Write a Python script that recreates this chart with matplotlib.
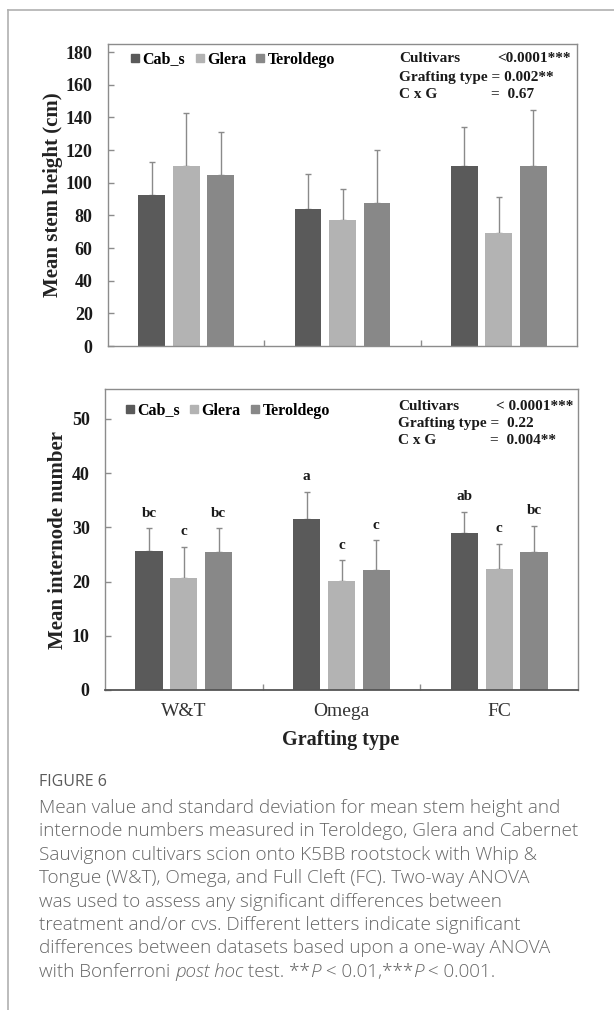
import matplotlib
matplotlib.use('Agg')
import matplotlib.pyplot as plt
from matplotlib.lines import Line2D
from matplotlib.font_manager import FontProperties
import numpy as np

categories = ['W&T', 'Omega', 'FC']
cultivars = ['Cab_s', 'Glera', 'Teroldego']
colors = ['#5a5a5a', '#b3b3b3', '#888888']

# mean stem height (cm) and SD
height_cab = [92.3, 83.9, 110.5]
height_glera = [110.5, 77.1, 69.2]
height_ter = [104.5, 87.4, 110.5]
height_sd_cab = [20.7, 21.5, 23.5]
height_sd_glera = [32.1, 19.3, 22.0]
height_sd_ter = [26.8, 32.9, 34.3]

# mean internode number and SD
int_cab = [25.6, 31.6, 28.9]
int_glera = [20.6, 20.1, 22.3]
int_ter = [25.5, 22.2, 25.5]
int_sd_cab = [4.2, 5.0, 3.9]
int_sd_glera = [5.8, 3.8, 4.7]
int_sd_ter = [4.3, 5.4, 4.8]
letters_cab = ['bc', 'a', 'ab']
letters_glera = ['c', 'c', 'c']
letters_ter = ['bc', 'c', 'bc']

stats_top = [('Cultivars', '<0.0001***'), ('Grafting type = 0.002**', ''), ('C x G', '=  0.67')]
stats_bot = [('Cultivars', '< 0.0001***'), ('Grafting type =  0.22', ''), ('C x G', '=  0.004**')]

caption_head = 'FIGURE 6'
caption_lines = [
    'Mean value and standard deviation for mean stem height and',
    'internode numbers measured in Teroldego, Glera and Cabernet',
    'Sauvignon cultivars scion onto K5BB rootstock with Whip &',
    'Tongue (W&T), Omega, and Full Cleft (FC). Two-way ANOVA',
    'was used to assess any significant differences between',
    'treatment and/or cvs. Different letters indicate significant',
    'differences between datasets based upon a one-way ANOVA',
]
caption_last = [('with Bonferroni ', 'normal'), ('post hoc', 'italic'), (' test. **', 'normal'),
                ('P', 'italic'), (' < 0.01,***', 'normal'), ('P', 'italic'), (' < 0.001.', 'normal')]

W, H = 614, 1010
serif = 'Liberation Serif'
sans = ['Open Sans', 'DejaVu Sans']
spine_c = '#8c8c8c'


def fx(x):
    return x / W


def fy(y):
    return 1 - y / H


fig = plt.figure(figsize=(W / 100, H / 100), dpi=100)

ax1 = fig.add_axes([fx(108), fy(346), 469 / W, 302 / H])
ax2 = fig.add_axes([fx(105), fy(690), 473 / W, 301 / H])

x = np.arange(len(categories))
step = 0.221
bw = 0.172


def draw_panel(ax, means, sds, ymax, yticks):
    for i, (m, s, c) in enumerate(zip(means, sds, colors)):
        xs = x + (i - 1) * step
        ax.bar(xs, m, width=bw, color=c, edgecolor='none', zorder=2)
        ax.errorbar(xs, m, yerr=[np.zeros(len(s)), s], fmt='none', ecolor='#8a8a8a',
                    elinewidth=1.0, capsize=2.5, capthick=1.0, zorder=1)
    ax.set_xlim(-0.5, 2.5)
    ax.set_ylim(0, ymax)
    ax.set_yticks(yticks)
    ax.set_xticks(x)
    ax.set_xticks([0.5, 1.5], minor=True)
    ax.tick_params(axis='y', direction='in', length=4, width=1, color=spine_c, pad=11,
                   labelsize=13, labelcolor='#1a1a1a')
    ax.tick_params(axis='x', which='major', length=0)
    ax.tick_params(axis='x', which='minor', direction='in', length=4, width=1, color=spine_c)
    for lab in ax.get_yticklabels():
        lab.set_fontfamily(serif)
        lab.set_fontweight('bold')
    for sp in ax.spines.values():
        sp.set_color(spine_c)
        sp.set_linewidth(1.0)
    handles = [Line2D([], [], marker='s', ls='none', color=c, markersize=6) for c in colors]
    return handles


h1 = draw_panel(ax1, [height_cab, height_glera, height_ter],
                [height_sd_cab, height_sd_glera, height_sd_ter], 185, range(0, 181, 20))
ax1.set_xticklabels([])

h2 = draw_panel(ax2, [int_cab, int_glera, int_ter],
                [int_sd_cab, int_sd_glera, int_sd_ter], 55.5, range(0, 51, 10))
ax2.set_xticklabels(categories, fontfamily=serif, fontsize=14, color='#333333')
ax2.tick_params(axis='x', which='major', pad=9)
ax2.spines['bottom'].set_color('#555555')
ax2.spines['bottom'].set_linewidth(1.3)

# significance letters
for i, (m, s, labs) in enumerate(zip([int_cab, int_glera, int_ter],
                                     [int_sd_cab, int_sd_glera, int_sd_ter],
                                     [letters_cab, letters_glera, letters_ter])):
    for j in range(len(categories)):
        ax2.text(x[j] + (i - 1) * step, m[j] + s[j] + 2.8, labs[j], ha='center', va='center',
                 fontfamily=serif, fontweight='bold', fontsize=11, color='#1a1a1a')

leg_font = FontProperties(family=serif, weight='bold', size=11.5)
for ax, hs, anchor in [(ax1, h1, (0.045, 0.975)), (ax2, h2, (0.04, 0.955))]:
    ax.legend(hs, cultivars, loc='upper left', bbox_to_anchor=anchor, ncol=3, frameon=False,
              handletextpad=0.05, columnspacing=0.5, handlelength=0.8, borderaxespad=0,
              borderpad=0, prop=leg_font)

# ANOVA summary text
tkw = dict(fontfamily=serif, fontweight='bold', fontsize=11, color='#1a1a1a', va='center')
for (left, right), y in zip(stats_top, [59, 77, 95]):
    fig.text(fx(399), fy(y), left, ha='left', **tkw)
    if right.startswith('<'):
        fig.text(fx(571), fy(y), right, ha='right', **tkw)
    elif right:
        fig.text(fx(491), fy(y), right, ha='left', **tkw)
for (left, right), y in zip(stats_bot, [407, 424, 441]):
    fig.text(fx(398), fy(y), left, ha='left', **tkw)
    if right.startswith('<'):
        fig.text(fx(573), fy(y), right, ha='right', **tkw)
    elif right:
        fig.text(fx(490), fy(y), right, ha='left', **tkw)

# axis titles
fig.text(fx(53), fy(195), 'Mean stem height (cm)', rotation=90, ha='center', va='center',
         fontfamily=serif, fontweight='bold', fontsize=15, color='#222222')
fig.text(fx(58), fy(540), 'Mean internode number', rotation=90, ha='center', va='center',
         fontfamily=serif, fontweight='bold', fontsize=15, color='#222222')
fig.text(fx(341), fy(740), 'Grafting type', ha='center', va='center',
         fontfamily=serif, fontweight='bold', fontsize=14.5, color='#222222')

# frame lines
fig.add_artist(Line2D([fx(7.5), fx(7.5)], [fy(10), 0], color='#b0b0b0', lw=1.2))
fig.add_artist(Line2D([fx(7.5), 1], [fy(10), fy(10)], color='#b0b0b0', lw=1.2))

# caption
cap_c = '#666666'
fig.text(fx(39), fy(782), caption_head, ha='left', va='center', family=sans,
         fontsize=11.5, weight='medium', color='#5a5a5a')
line_gap = 23.4
for k, line in enumerate(caption_lines):
    fig.text(fx(39), fy(808 + k * line_gap), line, ha='left', va='center', family=sans,
             weight='light', fontsize=13.6, color=cap_c)

renderer = fig.canvas.get_renderer()
xcur = fx(39)
ylast = fy(808 + len(caption_lines) * line_gap)
for txt, style in caption_last:
    t = fig.text(xcur, ylast, txt, ha='left', va='center', family=sans, weight='light',
                 style=style, fontsize=13.6, color=cap_c)
    bb = t.get_window_extent(renderer)
    xcur = bb.x1 / fig.bbox.width

fig.savefig('out.png', dpi=100)
